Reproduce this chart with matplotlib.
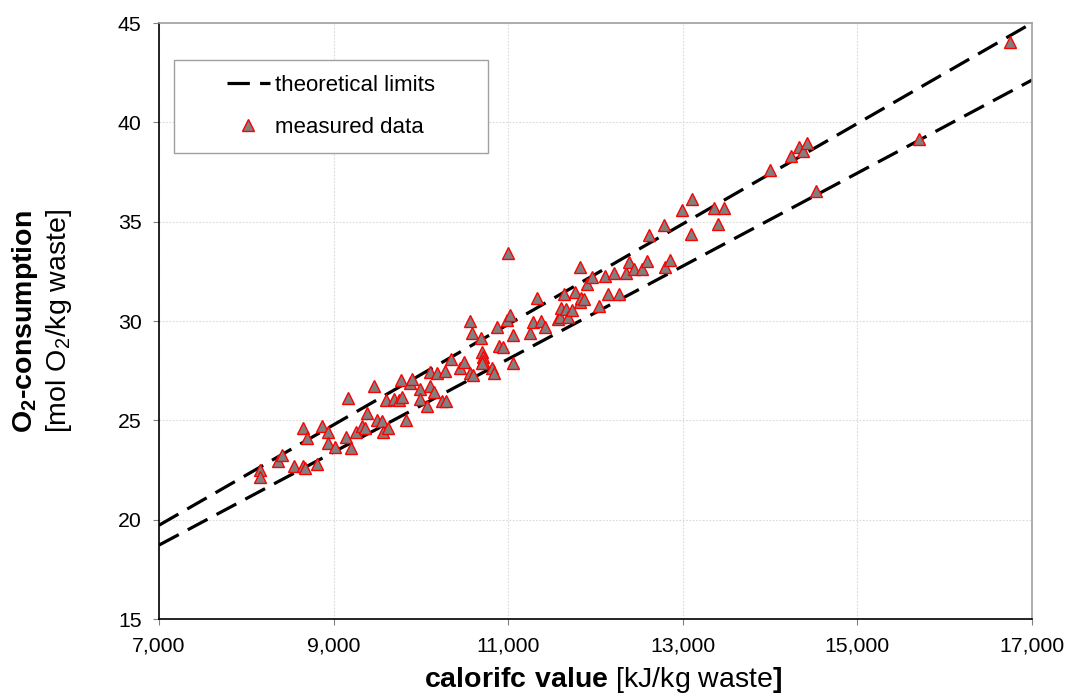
import matplotlib
matplotlib.use("Agg")
import matplotlib.pyplot as plt
from matplotlib.patches import Rectangle
from matplotlib.ticker import FuncFormatter
import numpy as np

plt.rcParams['font.family'] = ['Liberation Sans', 'DejaVu Sans']
plt.rcParams['mathtext.fontset'] = 'custom'
plt.rcParams['mathtext.rm'] = 'Liberation Sans'
plt.rcParams['mathtext.bf'] = 'Liberation Sans:bold'
plt.rcParams['mathtext.default'] = 'regular'

# calorific value [kJ/kg] and O2 consumption [mol/kg] of the samples
heizwert = [8160, 8155, 8360, 8405, 8550, 8655, 8670, 8655, 8700, 8805,
            8865, 8940, 8940, 9015, 9140, 9160, 9200, 9260, 9330, 9360,
            9380, 9465, 9495, 9550, 9560, 9605, 9625, 9695, 9750, 9785,
            9770, 9830, 9870, 9900, 9995, 9995, 10075, 10105, 10105, 10150,
            10180, 10245, 10290, 10275, 10350, 10445, 10495, 10560, 10600, 10560,
            10580, 10690, 10695, 10710, 10715, 10705, 10810, 10835, 10870, 10890,
            10935, 10995, 10990, 11015, 11055, 11058, 11250, 11280, 11326, 11375,
            11421, 11565, 11595, 11610, 11635, 11660, 11690, 11730, 11765, 11822,
            11822, 11836, 11872, 11906, 11963, 12036, 12111, 12140, 12208, 12272,
            12346, 12386, 12445, 12528, 12586, 12617, 12781, 12796, 12853, 12987,
            13092, 13109, 13361, 13407, 13469, 13995, 14240, 14331, 14373, 14419,
            14526, 15706, 16748]
o2 = [22.50, 22.17, 22.96, 23.26, 22.70, 22.70, 22.60, 24.60, 24.10, 22.80,
      24.73, 24.40, 23.88, 23.65, 24.18, 26.11, 23.63, 24.40, 24.70, 24.63,
      25.36, 26.75, 25.02, 24.99, 24.43, 26.03, 24.60, 26.06, 26.03, 26.19,
      27.03, 25.02, 26.90, 27.07, 26.58, 26.08, 25.74, 26.75, 27.42, 26.45,
      27.37, 25.98, 25.98, 27.50, 28.07, 27.62, 27.95, 27.37, 27.30, 30.02,
      29.40, 29.14, 28.46, 28.20, 28.00, 27.90, 27.64, 27.36, 29.72, 28.76,
      28.70, 33.42, 30.05, 30.30, 29.30, 27.87, 29.40, 29.97, 31.14, 30.02,
      29.68, 30.10, 30.22, 30.66, 31.35, 30.59, 30.22, 30.54, 31.45, 32.72,
      30.97, 31.14, 31.10, 31.85, 32.20, 30.77, 32.28, 31.38, 32.44, 31.36,
      32.40, 32.99, 32.61, 32.62, 33.01, 34.32, 34.85, 32.70, 33.06, 35.60,
      34.38, 36.14, 35.67, 34.86, 35.67, 37.60, 38.32, 38.77, 38.56, 38.94,
      36.56, 39.16, 44.06]

# theoretical limits: O2 = a * Hu + b
grenze_x = [7000, 17000]
grenze_oben = [19.72, 45.0]
grenze_unten = [18.72, 42.13]

fig = plt.figure(figsize=(10.73, 7.0), dpi=100)
ax = fig.add_axes([0.1482, 0.1157, 0.8136, 0.8514])

ax.plot(grenze_x, grenze_oben, color='black', lw=2.3, dashes=(7, 3.2),
        label='theoretical limits', zorder=2)
ax.plot(grenze_x, grenze_unten, color='black', lw=2.3, dashes=(7, 3.2), zorder=2)
ax.plot(heizwert, o2, ls='none', marker='^', ms=8, mfc='#808080', mec='#ff0000',
        mew=1.0, label='measured data', zorder=3)

ax.set_xlim(7000, 17000)
ax.set_ylim(15, 45)
ax.set_xticks(np.arange(7000, 17001, 2000))
ax.set_yticks(np.arange(15, 46, 5))
ax.xaxis.set_major_formatter(FuncFormatter(lambda v, p: '{:,.0f}'.format(v)))
ax.tick_params(direction='out', length=4.5, width=0.8, color='#808080',
               labelsize=15.3, pad=8)
ax.grid(True, color='#d9d9d9', ls=(0, (1.5, 1.5)), lw=0.8, zorder=0)

for s in ['left', 'bottom']:
    ax.spines[s].set_color('black')
    ax.spines[s].set_linewidth(1.2)
for s in ['top', 'right']:
    ax.spines[s].set_color('#a0a0a0')
    ax.spines[s].set_linewidth(1.2)

# Legend frame drawn separately so the entries sit centered inside
ax.add_patch(Rectangle((0.017, 0.782), 0.36, 0.156, transform=ax.transAxes,
                       fill=True, facecolor='white', edgecolor='#a0a0a0',
                       lw=1.0, zorder=4))
leg = ax.legend(loc='center', bbox_to_anchor=(0.197, 0.86), frameon=False,
                fontsize=16, handlelength=1.95, handletextpad=0.25,
                labelspacing=0.95, borderpad=0)
leg.set_zorder(5)

fig.text(0.562, 0.018, r'$\mathbf{calorifc\ value}$ [kJ/kg waste$\mathbf{]}$',
         ha='center', va='baseline', fontsize=20.5)
fig.text(0.023, 0.541, r'$\mathbf{O_2}$-consumption', rotation=90,
         ha='center', va='center', fontsize=20.5, fontweight='bold')
fig.text(0.055, 0.541, '[mol O$_2$/kg waste]', rotation=90,
         ha='center', va='center', fontsize=20.5)

fig.savefig('out.png', dpi=100)
